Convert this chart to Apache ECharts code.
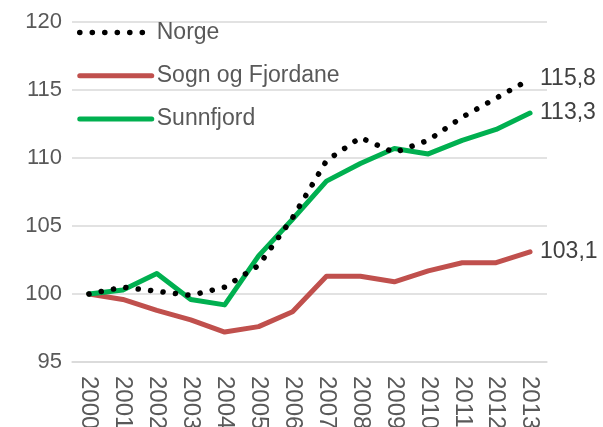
<!DOCTYPE html>
<html>
<head>
<meta charset="utf-8">
<script src="https://cdn.jsdelivr.net/npm/echarts@6/dist/echarts.min.js"></script>
<style>html,body{margin:0;padding:0;background:#fff}#c{width:603px;height:427px}</style>
</head>
<body>
<div id="c"></div>
<script>
const years = ['2000','2001','2002','2003','2004','2005','2006','2007','2008','2009','2010','2011','2012','2013'];
const seriesNames = ['Norge','Sogn og Fjordane','Sunnfjord'];
const norge = [100, 100.5, 100.2, 99.9, 100.5, 102.1, 105.6, 109.8, 111.5, 110.4, 111.3, 113.0, 114.4, 115.8];
const sognOgFjordane = [100, 99.6, 98.8, 98.1, 97.2, 97.6, 98.7, 101.3, 101.3, 100.9, 101.7, 102.3, 102.3, 103.1];
const sunnfjord = [100, 100.3, 101.5, 99.6, 99.2, 102.8, 105.5, 108.3, 109.6, 110.7, 110.3, 111.3, 112.1, 113.3];
const endLabels = ['115,8', '103,1', '113,3'];
const yTicks = {min: 95, max: 120, interval: 5};

const font = 'Liberation Sans, Arial, sans-serif';
const chart = echarts.init(document.getElementById('c'), null, {renderer: 'canvas'});
function mk(i, data, color, lineType, width) {
  return {
    name: seriesNames[i], type: 'line', data: data, symbol: 'none', smooth: false,
    z: i === 0 ? 4 : 2,
    lineStyle: {color: color, width: width, type: lineType, cap: 'round', join: 'round'},
    itemStyle: {color: color},
    endLabel: {show: true, formatter: () => endLabels[i], distance: 10,
      fontSize: 23, fontFamily: font, color: '#404040'}
  };
}
chart.setOption({
  animation: false,
  backgroundColor: '#fff',
  grid: {left: 72, right: 56, top: 22, bottom: 65, containLabel: false, outerBoundsMode: 'none'},
  legend: {
    orient: 'vertical', left: 77, top: 21, padding: 0, itemWidth: 72, itemHeight: 14, itemGap: 20.3,
    lineStyle: {width: 'inherit', type: 'inherit', cap: 'round'},
    itemStyle: {opacity: 0},
    textStyle: {fontSize: 23, fontFamily: font, color: '#595959'},
    data: seriesNames
  },
  xAxis: {
    type: 'category', data: years, boundaryGap: true,
    axisLine: {show: true, lineStyle: {color: '#D9D9D9', width: 1.5}},
    axisTick: {show: false},
    axisLabel: {rotate: -90, fontSize: 24, fontFamily: font, color: '#595959', margin: 14, interval: 0}
  },
  yAxis: {
    type: 'value', min: yTicks.min, max: yTicks.max, interval: yTicks.interval,
    axisLine: {show: false}, axisTick: {show: false},
    splitLine: {lineStyle: {color: '#D9D9D9', width: 1.5}},
    axisLabel: {fontSize: 22, fontFamily: font, color: '#595959', margin: 10}
  },
  series: [
    mk(0, norge, '#000000', [0.1, 12.4], 5.5),
    mk(1, sognOgFjordane, '#C0504D', 'solid', 5),
    mk(2, sunnfjord, '#00B050', 'solid', 5)
  ]
});
</script>
</body>
</html>
